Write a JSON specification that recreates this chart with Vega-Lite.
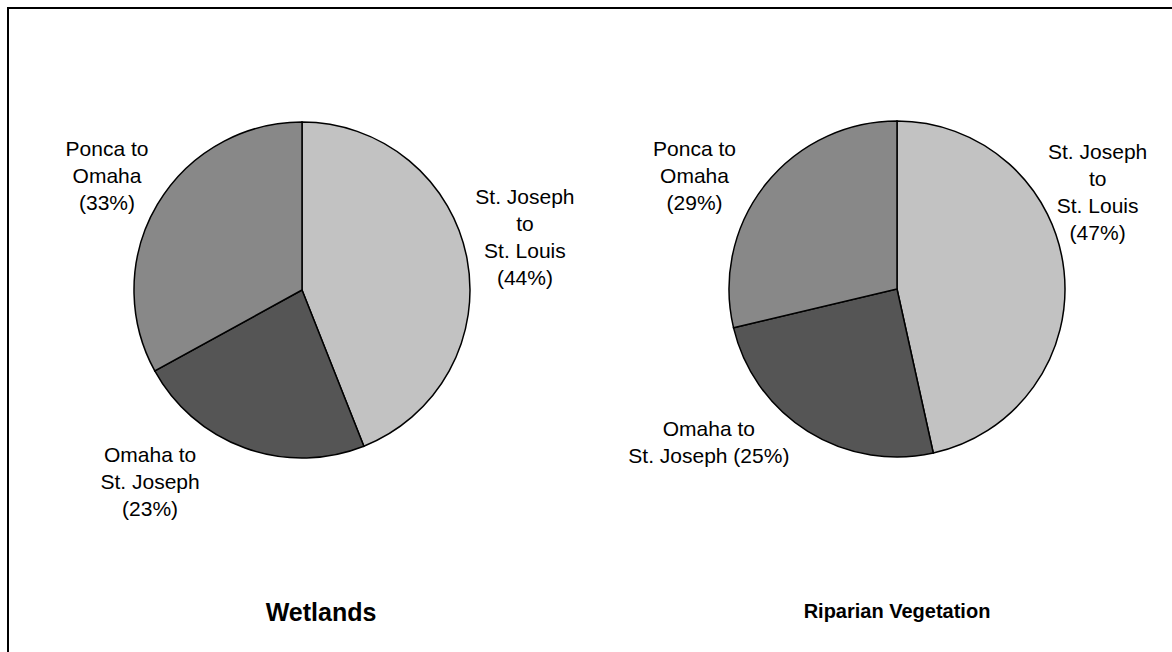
{
  "$schema": "https://vega.github.io/schema/vega-lite/v6.json",
  "width": 1172,
  "height": 652,
  "autosize": {"type": "fit", "contains": "padding"},
  "padding": {"left": 8, "top": 8, "right": -12, "bottom": -12},
  "background": "white",
  "config": {
    "font": "Liberation Sans",
    "view": {"stroke": "#000000", "strokeWidth": 2}
  },
  "data": {
    "values": [
      {"panel": "Wetlands", "seg": "StJoseph-StLouis", "ord": 1, "value": 44, "label": "St. Joseph\nto\nSt. Louis\n(44%)"},
      {"panel": "Wetlands", "seg": "Omaha-StJoseph", "ord": 2, "value": 23, "label": "Omaha to\nSt. Joseph\n(23%)"},
      {"panel": "Wetlands", "seg": "Ponca-Omaha", "ord": 3, "value": 33, "label": "Ponca to\nOmaha\n(33%)"},
      {"panel": "Riparian Vegetation", "seg": "StJoseph-StLouis", "ord": 1, "value": 47, "label": "St. Joseph\nto\nSt. Louis\n(47%)"},
      {"panel": "Riparian Vegetation", "seg": "Omaha-StJoseph", "ord": 2, "value": 25, "label": "Omaha to\nSt. Joseph (25%)"},
      {"panel": "Riparian Vegetation", "seg": "Ponca-Omaha", "ord": 3, "value": 29, "label": "Ponca to\nOmaha\n(29%)"}
    ]
  },
  "encoding": {
    "x": {"field": "panel", "type": "nominal", "axis": null,
          "scale": {"type": "point", "domain": ["Wetlands", "Riparian Vegetation"], "range": [294, 889], "padding": 0}}
  },
  "layer": [
    {
      "transform": [{"filter": "datum.panel === 'Wetlands'"}],
      "mark": {"type": "arc", "outerRadius": 168, "stroke": "#000000", "strokeWidth": 1.5},
      "encoding": {
        "theta": {"field": "value", "type": "quantitative", "stack": true},
        "order": {"field": "ord", "type": "quantitative"},
        "color": {"field": "seg", "type": "nominal", "legend": null,
                  "scale": {"domain": ["StJoseph-StLouis", "Omaha-StJoseph", "Ponca-Omaha"], "range": ["#c2c2c2", "#555555", "#888888"]}},
        "y": {"value": 282}
      }
    },
    {
      "transform": [{"filter": "datum.panel === 'Riparian Vegetation'"}],
      "mark": {"type": "arc", "outerRadius": 168, "stroke": "#000000", "strokeWidth": 1.5},
      "encoding": {
        "theta": {"field": "value", "type": "quantitative", "stack": true},
        "order": {"field": "ord", "type": "quantitative"},
        "color": {"field": "seg", "type": "nominal", "legend": null},
        "y": {"value": 281}
      }
    },
    {
      "transform": [{"filter": "datum.panel === 'Wetlands'"}],
      "mark": {"type": "text", "radius": 230, "dx": -3, "dy": -49, "fontSize": 21, "lineBreak": "\n", "lineHeight": 27, "align": "center", "baseline": "middle", "color": "#000000"},
      "encoding": {
        "theta": {"field": "value", "type": "quantitative", "stack": true},
        "order": {"field": "ord", "type": "quantitative"},
        "text": {"condition": {"test": "datum.seg === 'StJoseph-StLouis'", "field": "label"}, "value": ""},
        "y": {"value": 282}
      }
    },
    {
      "transform": [{"filter": "datum.panel === 'Wetlands'"}],
      "mark": {"type": "text", "radius": 230, "dx": -74, "dy": -50, "fontSize": 21, "lineBreak": "\n", "lineHeight": 27, "align": "center", "baseline": "middle", "color": "#000000"},
      "encoding": {
        "theta": {"field": "value", "type": "quantitative", "stack": true},
        "order": {"field": "ord", "type": "quantitative"},
        "text": {"condition": {"test": "datum.seg === 'Omaha-StJoseph'", "field": "label"}, "value": ""},
        "y": {"value": 282}
      }
    },
    {
      "transform": [{"filter": "datum.panel === 'Wetlands'"}],
      "mark": {"type": "text", "radius": 230, "dx": 3, "dy": -23, "fontSize": 21, "lineBreak": "\n", "lineHeight": 27, "align": "center", "baseline": "middle", "color": "#000000"},
      "encoding": {
        "theta": {"field": "value", "type": "quantitative", "stack": true},
        "order": {"field": "ord", "type": "quantitative"},
        "text": {"condition": {"test": "datum.seg === 'Ponca-Omaha'", "field": "label"}, "value": ""},
        "y": {"value": 282}
      }
    },
    {
      "transform": [{"filter": "datum.panel === 'Riparian Vegetation'"}],
      "mark": {"type": "text", "radius": 230, "dx": -28, "dy": -111, "fontSize": 21, "lineBreak": "\n", "lineHeight": 27, "align": "center", "baseline": "middle", "color": "#000000"},
      "encoding": {
        "theta": {"field": "value", "type": "quantitative", "stack": true},
        "order": {"field": "ord", "type": "quantitative"},
        "text": {"condition": {"test": "datum.seg === 'StJoseph-StLouis'", "field": "label"}, "value": ""},
        "y": {"value": 281}
      }
    },
    {
      "transform": [{"filter": "datum.panel === 'Riparian Vegetation'"}],
      "mark": {"type": "text", "radius": 230, "dx": -66, "dy": -54, "fontSize": 21, "lineBreak": "\n", "lineHeight": 27, "align": "center", "baseline": "middle", "color": "#000000"},
      "encoding": {
        "theta": {"field": "value", "type": "quantitative", "stack": true},
        "order": {"field": "ord", "type": "quantitative"},
        "text": {"condition": {"test": "datum.seg === 'Omaha-StJoseph'", "field": "label"}, "value": ""},
        "y": {"value": 281}
      }
    },
    {
      "transform": [{"filter": "datum.panel === 'Riparian Vegetation'"}],
      "mark": {"type": "text", "radius": 230, "dx": -22, "dy": 4, "fontSize": 21, "lineBreak": "\n", "lineHeight": 27, "align": "center", "baseline": "middle", "color": "#000000"},
      "encoding": {
        "theta": {"field": "value", "type": "quantitative", "stack": true},
        "order": {"field": "ord", "type": "quantitative"},
        "text": {"condition": {"test": "datum.seg === 'Ponca-Omaha'", "field": "label"}, "value": ""},
        "y": {"value": 281}
      }
    },
    {
      "transform": [{"filter": "datum.ord === 1 && datum.panel === 'Wetlands'"}],
      "mark": {"type": "text", "fontSize": 25, "fontWeight": "bold", "align": "center", "baseline": "middle", "dx": 19, "color": "#000000"},
      "encoding": {
        "text": {"field": "panel"},
        "y": {"value": 605}
      }
    },
    {
      "transform": [{"filter": "datum.ord === 1 && datum.panel === 'Riparian Vegetation'"}],
      "mark": {"type": "text", "fontSize": 20, "fontWeight": "bold", "align": "center", "baseline": "middle", "dx": 0, "color": "#000000"},
      "encoding": {
        "text": {"field": "panel"},
        "y": {"value": 604}
      }
    }
  ],
  "resolve": {"scale": {"theta": "independent"}}
}
